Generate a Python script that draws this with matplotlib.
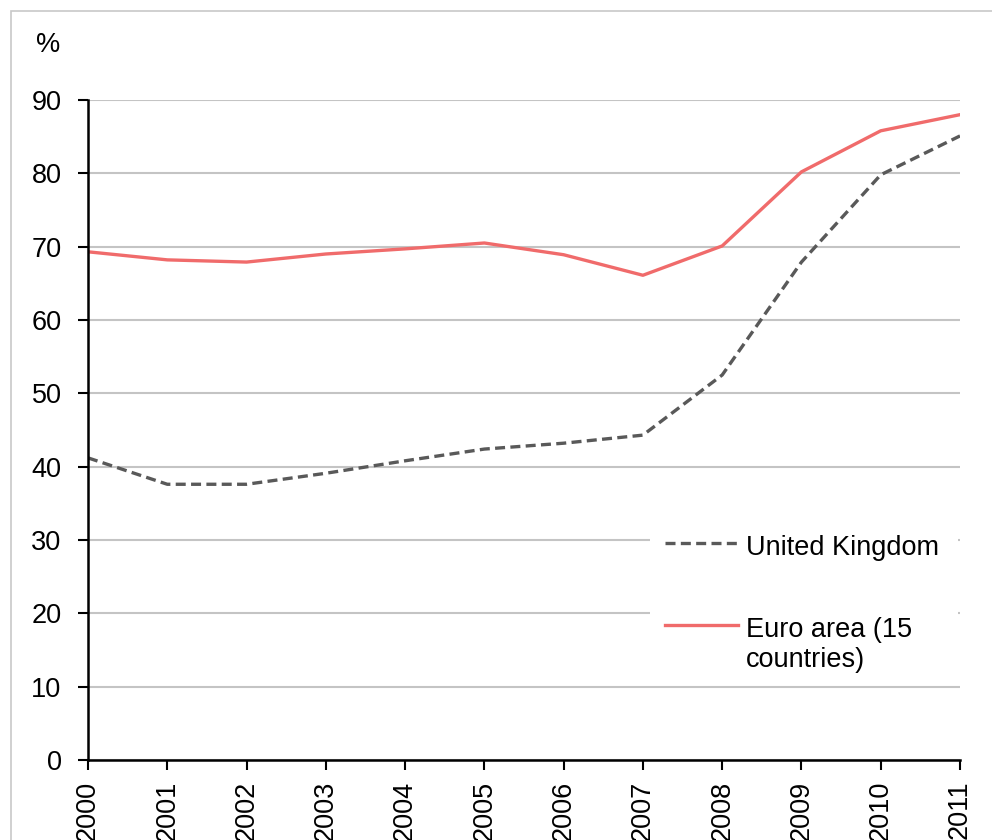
import matplotlib.pyplot as plt
from matplotlib.lines import Line2D

plt.rcParams['font.family'] = ['Liberation Sans', 'DejaVu Sans']

# --- DATA ---
years = [2000, 2001, 2002, 2003, 2004, 2005, 2006, 2007, 2008, 2009, 2010, 2011]
uk = [41.2, 37.6, 37.6, 39.1, 40.8, 42.4, 43.2, 44.3, 52.5, 67.9, 79.8, 85.1]
euro = [69.3, 68.2, 67.9, 69.0, 69.7, 70.5, 68.9, 66.1, 70.1, 80.2, 85.8, 88.0]
y_ticks = [0, 10, 20, 30, 40, 50, 60, 70, 80, 90]
series_names = ['United Kingdom', 'Euro area (15\ncountries)']

FS = 19.5
W, H = 992, 840
UK_STYLE = dict(color='#595959', linewidth=2.4, linestyle=(0, (3, 1.6)))
EURO_STYLE = dict(color='#f06b6b', linewidth=2.4, linestyle='-')

fig = plt.figure(figsize=(W / 100, H / 100), dpi=100)
ax = fig.add_axes([88 / W, 80 / H, 872 / W, 660 / H])

# light outer frame round the chart
fig.patches.append(plt.Rectangle((11 / W, -0.01), 1.0, 1 - 11 / H + 0.01,
                                 transform=fig.transFigure, fill=False,
                                 edgecolor='#c8c8c8', linewidth=1.2))

ax.plot(years, uk, zorder=3, **UK_STYLE)
ax.plot(years, euro, zorder=3, **EURO_STYLE)

ax.set_xlim(2000, 2011)
ax.set_ylim(0, 90)
ax.set_yticks(y_ticks)
ax.set_xticks(years)
ax.set_xticklabels([str(y) for y in years], rotation=90, fontsize=FS)
ax.tick_params(axis='y', labelsize=FS, length=7, width=1.5, direction='out', pad=12)
ax.tick_params(axis='x', length=7, width=1.5, direction='out', pad=8)

ax.grid(axis='y', color='#c4c4c4', linewidth=1.5)
ax.set_axisbelow(True)
for side in ['top', 'right']:
    ax.spines[side].set_visible(False)
for side in ['left', 'bottom']:
    ax.spines[side].set_linewidth(1.8)
    ax.spines[side].set_color('black')
    ax.spines[side].set_zorder(4)

fig.text(48 / W, 1 - 45 / H, '%', fontsize=FS, ha='center', va='center')

# legend drawn by hand on a white box over the gridlines
fig.patches.append(plt.Rectangle((650 / W, 1 - 680 / H), 308 / W, 180 / H,
                                 transform=fig.transFigure, facecolor='white',
                                 edgecolor='none', zorder=2))
# (style, label, handle y, baseline of last text line) in pixels from top
entries = [(UK_STYLE, series_names[0], 543, 555),
           (EURO_STYLE, series_names[1], 625, 667)]
for style, name, yl, yb in entries:
    fig.add_artist(Line2D([665 / W, 738 / W], [1 - yl / H, 1 - yl / H],
                          transform=fig.transFigure, zorder=3, **style))
    fig.text(746 / W, 1 - yb / H, name, fontsize=FS, ha='left',
             va='baseline', linespacing=1.18, zorder=3)

fig.savefig('out.png', dpi=100)
